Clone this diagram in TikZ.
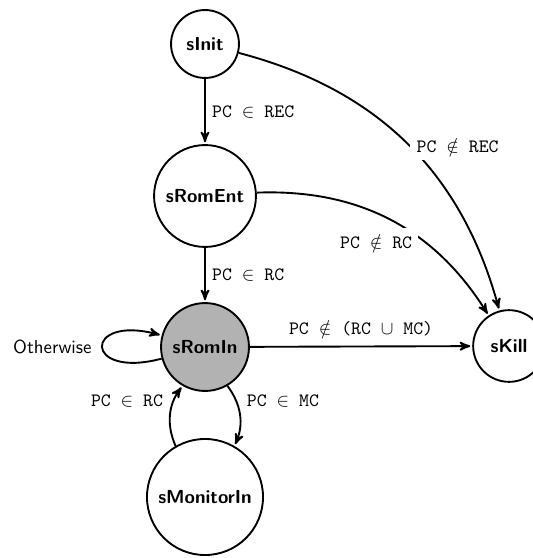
\documentclass[tikz,border=0pt]{standalone}
\usetikzlibrary{arrows}
\usetikzlibrary{positioning}

\begin{document}
\begin{tikzpicture}[x=0.53pt,y=0.53pt,->,>=stealth',shorten >=1pt,line width=1pt,auto,
    state/.style={circle,draw,font=\sffamily\bfseries,inner sep=2pt},
    trans/.style={font=\ttfamily},
    every loop/.style={looseness=9}]
  \useasboundingbox (0,0) rectangle (532,-558);
  \node[state,minimum size=36pt] (init) at (205,-44) {sInit};
  \node[state,minimum size=54pt] (ent) at (205,-196) {sRomEnt};
  \node[state,minimum size=46.6pt,fill=black!30] (romin) at (205,-347) {sRomIn};
  \node[state,minimum size=61.5pt] (mon) at (205,-497) {sMonitorIn};
  \node[state,minimum size=38pt] (kill) at (509,-346) {sKill};

  \path (init) edge node[trans] {PC $\in$ REC} (ent)
        (ent) edge node[trans] {PC $\in$ RC} (romin)
        (romin) edge node[trans,yshift=1.5pt] {PC $\notin$ (RC $\cup$ MC)} (kill)
        (romin) edge[bend left] node[trans] {PC $\in$ MC} (mon)
        (mon) edge[bend left] node[trans] {PC $\in$ RC} (romin)
        (romin) edge[loop left] node[left,font=\sffamily,xshift=-2pt] {Otherwise} ()
        (init) edge[bend left] node[trans,fill=white,pos=.51,anchor=west] {PC $\notin$ REC} (kill)
        (ent) edge[bend left] node[trans,fill=white,pos=.63,anchor=north east,yshift=6pt] {PC $\notin$ RC} (kill);
\end{tikzpicture}
\end{document}
